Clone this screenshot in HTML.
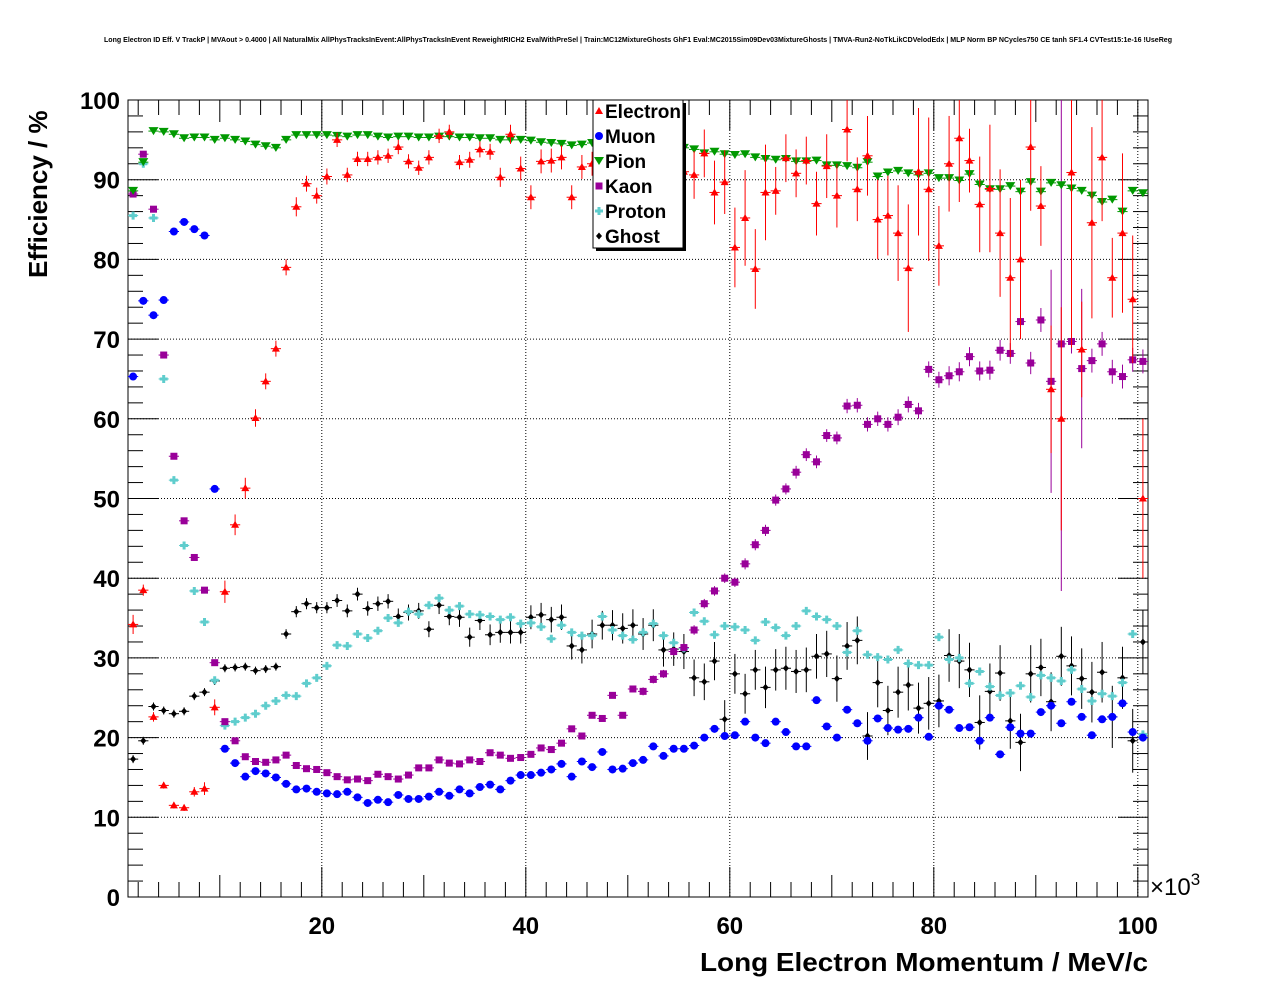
<!DOCTYPE html>
<html><head><meta charset="utf-8"><style>
html,body{margin:0;padding:0;background:#fff;}
svg{display:block;font-family:"Liberation Sans",Arial,sans-serif;}
</style></head><body>
<svg id="c" width="1276" height="996" xmlns="http://www.w3.org/2000/svg">
<rect x="0" y="0" width="1276" height="996" fill="#fff"/>
<text x="104" y="42" font-size="7" textLength="1068" lengthAdjust="spacingAndGlyphs" font-weight="bold">Long Electron ID Eff. V TrackP | MVAout &gt; 0.4000 | All NaturalMix AllPhysTracksInEvent:AllPhysTracksInEvent ReweightRICH2 EvalWithPreSel | Train:MC12MixtureGhosts GhF1 Eval:MC2015Sim09Dev03MixtureGhosts | TMVA-Run2-NoTkLikCDVelodEdx | MLP Norm BP NCycles750 CE tanh SF1.4 CVTest15:1e-16 !UseReg</text>
<g id="grid"></g>
<g id="axes"></g>
<g id="marks"></g>
<text x="700" y="971" font-size="26" font-weight="bold" textLength="448" lengthAdjust="spacingAndGlyphs">Long Electron Momentum / MeV/c</text>
<text transform="translate(47,278) rotate(-90)" font-size="26" font-weight="bold" text-anchor="start">Efficiency / %</text>
<text x="1150" y="895" font-size="24">×10<tspan dy="-10" font-size="17">3</tspan></text>
<g id="legend"></g>
</svg>
<script>
const xCenters0 = 1.5; // first bin center (x10^3)
const electron = [34.2,38.5,22.6,14,11.5,11.2,13.2,13.6,23.8,38.3,
46.7,51.3,60.1,64.7,68.8,79,86.6,89.5,88,90.4,
95,90.6,92.6,92.6,92.8,93,94.1,92.3,91.5,92.8,
95.5,96,92.2,92.5,93.8,93.5,90.3,95.7,91.4,87.8,
92.3,92.4,92.8,87.8,91.6,92,93,93,92,93,
92,92,91,90,91,90.6,93.3,88.4,89.7,81.5,
85.2,78.8,88.4,88.6,92.7,90.8,92.4,87,91.7,88,
96.3,88.8,93,85,85.5,83.3,78.9,91,88.8,81.7,
92,95.2,92.4,86.9,88.9,83.3,77.7,80,94.1,86.7,
63.7,60,90.9,68.7,84.6,92.8,77.7,83.3,75,50];
const errElectron = [1.2,0.7,0.6,0.4,0.4,0.4,0.6,0.8,1,1.4,
1.3,1.3,1.1,1,1,1,1.2,1,1,1,
0.9,0.9,0.9,0.9,0.9,0.9,0.9,0.9,0.9,0.9,
0.9,0.9,0.9,1,1,1,1.2,1.2,1.5,1.5,
1.5,1.5,1.5,1.5,1.5,1.5,2,2,2,2,
2,2,2,2,2,3,3,4,4,5,
6,5,6,3,3,3,3,4,4,4,
4,4,5,5,5,6,8,8,9,5,
6,8,4,6,8,8,10,10,8,5,
8,14,22,6,12,8,5,10,8,10];
const muon = [65.3,74.8,73,74.9,83.5,84.7,83.8,83,51.2,18.6,
16.8,15.1,15.8,15.5,15,14.2,13.5,13.6,13.2,13,
12.9,13.2,12.5,11.8,12.2,11.9,12.8,12.3,12.3,12.6,
13.2,12.7,13.5,13,13.8,14.1,13.5,14.6,15.3,15.3,
15.6,16,16.7,15.1,17,16.3,18.2,16,16.1,16.8,
17.2,18.9,17.7,18.6,18.6,19,20,21.1,20.2,20.3,
22,20,19.3,22,20.7,18.9,18.9,24.7,21.4,20,
23.5,21.8,19.6,22.4,21.2,21,21.1,22.5,20.1,24,
23.5,21.2,21.3,19.6,22.5,17.9,21.3,20.5,20.5,23.2,
24,21.8,24.5,22.6,20.3,22.3,22.6,24.3,20.7,20];
const pion = [88.6,92.2,96.1,96,95.7,95.2,95.3,95.3,95,95.2,
95,94.8,94.4,94.2,94,95,95.6,95.6,95.6,95.6,
95.5,95.4,95.6,95.6,95.4,95.3,95.4,95.4,95.3,95.3,
95.4,95.4,95.3,95.3,95.2,95.2,95,95,95,94.9,
94.7,94.6,94.5,94.3,94.4,94.6,94.7,94.6,94.5,94.2,
94.3,94.3,94.3,94,94,93.8,93.3,93.5,93.2,93.1,
93.2,92.8,92.6,92.5,92.6,92.3,92.3,92.4,91.8,91.8,
91.7,91.5,92.2,90.4,90.9,91.1,90.8,90.6,90.8,90.2,
90.2,89.9,90.7,89.4,88.8,88.8,89.2,88.5,89.7,88.5,
89.6,89.3,88.9,88.6,88,87.2,87.5,86,88.6,88.3];
const kaon = [88.2,93.2,86.3,68,55.3,47.2,42.6,38.5,29.4,22,
19.6,17.6,17,16.9,17.2,17.8,16.5,16.1,16,15.6,
15.1,14.7,14.8,14.6,15.4,15.1,14.8,15.3,16.2,16.2,
17.2,16.8,16.7,17.2,17,18.1,17.8,17.4,17.5,17.9,
18.7,18.5,19.3,21.1,20.2,22.8,22.4,25.3,22.8,26.1,
25.8,27.3,28,30.8,31.3,33.5,36.8,38.4,40,39.5,
41.8,44.2,46,49.8,51.2,53.3,55.5,54.6,57.9,57.6,
61.6,61.7,59.3,60,59.3,60.2,61.8,61,66.2,64.9,
65.4,65.9,67.8,66,66.1,68.6,68.2,72.2,67,72.4,
64.7,69.4,69.7,66.3,67.3,69.4,65.9,65.3,67.4,67.2];
const errKaon = [0.4,0.4,0.4,0.4,0.4,0.4,0.4,0.4,0.4,0.4,
0.3,0.3,0.3,0.3,0.3,0.3,0.3,0.3,0.3,0.3,
0.3,0.3,0.3,0.3,0.3,0.3,0.3,0.3,0.3,0.3,
0.3,0.3,0.3,0.3,0.3,0.3,0.3,0.3,0.3,0.3,
0.4,0.4,0.4,0.4,0.4,0.4,0.4,0.4,0.4,0.4,
0.5,0.5,0.5,0.5,0.5,0.6,0.6,0.6,0.6,0.6,
0.7,0.7,0.7,0.7,0.7,0.8,0.8,0.8,0.8,0.8,
0.9,0.9,0.9,0.9,0.9,1,1,1,1,1,
1.2,1.2,1.2,1.2,1.2,1.3,1.3,1.4,1.4,1.5,
14,31,1.5,10,1.5,1.5,1.5,1.5,1.5,1.5];
const proton = [85.5,92,85.2,65,52.3,44.1,38.4,34.5,27.2,21.5,
22,22.5,23,24,24.6,25.3,25.2,26.8,27.5,29,
31.6,31.5,33,32.5,33.4,35,34.4,35.8,35.5,36.6,
37.5,36,36.5,35.5,35.4,35.2,34.8,35.1,34.3,34.4,
33.9,32.4,34.1,33.2,32.8,32.8,35.2,33.5,32.8,32.3,
33.2,34.3,32.8,31.9,31.2,35.7,34.6,32.9,34,33.9,
33.5,32.2,34.5,33.8,32.8,34,35.9,35.2,34.8,34,
30.7,33.4,30.4,30.1,29.8,31,29.3,29.1,29.1,32.6,
29.8,30,26.8,28.3,26.4,25.3,25.6,26.5,25.1,27.8,
27.5,27.1,28.5,26.1,24.6,25.5,25.2,26.9,33,20.4];
const ghost = [17.3,19.6,23.9,23.4,23,23.3,25.2,25.7,27.1,28.7,
28.8,28.9,28.4,28.6,28.9,33,35.8,36.8,36.3,36.3,
37.2,35.9,38,36.2,36.8,37.1,35.2,35.7,35.9,33.6,
36.6,35.2,35.1,32.6,34.7,32.9,33.2,33.2,33.2,35.1,
35.4,34.8,35.1,31.5,31,33,34.1,34.1,33.7,34.1,
33,34.1,31,31.1,30.8,27.5,27,29.6,22.3,28,
25.5,28.5,26.3,28.5,28.7,28.3,28.5,30.2,30.5,27.4,
31.5,32.2,20.2,26.9,23.4,25.7,26.6,23.7,24.3,24.6,
30.3,29.6,28.5,21.9,25.8,28.1,22.1,19.4,28,28.8,
24.5,30.2,29,27.4,25.7,28.2,22.6,27.5,19.6,32];
const errGhost = [0.5,0.5,0.5,0.5,0.5,0.5,0.5,0.5,0.5,0.5,
0.5,0.5,0.5,0.5,0.5,0.6,0.7,0.7,0.7,0.7,
0.8,0.8,0.8,0.9,0.9,0.9,1,1,1,1,
1.1,1.1,1.2,1.2,1.2,1.3,1.3,1.4,1.4,1.5,
1.5,1.6,1.6,1.7,1.7,1.8,1.8,1.9,1.9,2,
2,2,2.1,2.1,2.2,2.3,2.3,2.4,2.4,2.5,
2.5,2.5,2.6,2.6,2.7,2.7,2.8,2.8,2.9,2.9,
3,3,3,3.1,3.1,3.2,3.2,3.2,3.3,3.3,
3.3,3.4,3.4,3.4,3.5,3.5,3.5,3.6,3.6,3.6,
3.7,3.7,3.7,3.8,3.8,3.8,3.9,3.9,4,4];
const xTicks = [20,40,60,80,100];
const yTicks = [0,10,20,30,40,50,60,70,80,90,100];

const NS='http://www.w3.org/2000/svg';
const L=128,R=1148,T=100,B=897;
const X0=1,X1=101;
function sx(v){return L+(v-X0)/(X1-X0)*(R-L);}
function sy(v){return B-v/100*(B-T);}
function mk(tag,attrs,parent){const e=document.createElementNS(NS,tag);for(const k in attrs)e.setAttribute(k,attrs[k]);parent.appendChild(e);return e;}
const grid=document.getElementById('grid'),axes=document.getElementById('axes'),marks=document.getElementById('marks'),leg=document.getElementById('legend');

xTicks.forEach(t=>{if(t<X1){const g=mk('line',{x1:sx(t),x2:sx(t),y1:T,y2:B,stroke:'#000','stroke-width':1,'stroke-dasharray':'1,2'},grid);

}});
yTicks.forEach(t=>{if(t>0&&t<100){const g=mk('line',{x1:L,x2:R,y1:sy(t),y2:sy(t),stroke:'#000','stroke-width':1,'stroke-dasharray':'1,2'},grid);

}});
const fr=mk('rect',{x:L,y:T,width:R-L,height:B-T,fill:'none',stroke:'#000','stroke-width':1},axes);


for(let v=2;v<=100;v+=1){
  if(v<X0||v>X1)continue;
  const major=v%20===0, mid=v%10===0;
  const len=major?30:(mid?22:(v%2===0?15:0));
  if(!len)continue;
  const x=sx(v);
  const t1=mk('line',{x1:x,x2:x,y1:B,y2:B-len,stroke:'#000'},axes);
  
  
  const t2=mk('line',{x1:x,x2:x,y1:T,y2:T+len,stroke:'#000'},axes);
  
  
}
xTicks.forEach(t=>{const tx=mk('text',{x:sx(t),y:934,'font-size':24,'font-weight':'bold','text-anchor':'middle'},axes);tx.textContent=t;

});
for(let v=0;v<=100;v+=2){
  const major=v%10===0;const len=major?30:15;const y=sy(v);
  const t1=mk('line',{x1:L,x2:L+len,y1:y,y2:y,stroke:'#000'},axes);
  
  
  const t2=mk('line',{x1:R,x2:R-len,y1:y,y2:y,stroke:'#000'},axes);
  
  
}
yTicks.forEach(t=>{const tx=mk('text',{x:120,y:sy(t)+9,'font-size':24,'font-weight':'bold','text-anchor':'end'},axes);tx.textContent=t;

});

const zeros=new Array(100).fill(0.4);
function marker(shape,cx,cy,col,g){
  let e;
  if(shape==='tri') e=mk('polygon',{points:`${cx},${cy-4} ${cx-4},${cy+3} ${cx+4},${cy+3}`,fill:col},g);
  else if(shape==='tridown') e=mk('polygon',{points:`${cx-5},${cy-4} ${cx+5},${cy-4} ${cx},${cy+4}`,fill:col},g);
  else if(shape==='circ') e=mk('circle',{cx:cx,cy:cy,r:4,fill:col},g);
  else if(shape==='sq') e=mk('rect',{x:cx-3.5,y:cy-3.5,width:7,height:7,fill:col},g);
  else if(shape==='cross') e=mk('polygon',{points:`${cx-1.5},${cy-4} ${cx+1.5},${cy-4} ${cx+1.5},${cy-1.5} ${cx+4},${cy-1.5} ${cx+4},${cy+1.5} ${cx+1.5},${cy+1.5} ${cx+1.5},${cy+4} ${cx-1.5},${cy+4} ${cx-1.5},${cy+1.5} ${cx-4},${cy+1.5} ${cx-4},${cy-1.5} ${cx-1.5},${cy-1.5}`,fill:col},g);
  else e=mk('polygon',{points:`${cx},${cy-3.5} ${cx+3},${cy} ${cx},${cy+3.5} ${cx-3},${cy}`,fill:col},g);
  return e;
}
function drawSeries(name,vals,errs,col,shape){
  const g=mk('g',{},marks);
  
  
  vals.forEach((v,i)=>{
    const xc=xCenters0+i;const cx=sx(xc),cy=sy(v);
    const h=mk('line',{x1:sx(xc-0.5),x2:sx(xc+0.5),y1:cy,y2:cy,stroke:col,'stroke-width':1},g);
    
    
    const e=errs[i];
    const vt=mk('line',{x1:cx,x2:cx,y1:sy(Math.min(100,v+e)),y2:sy(Math.max(0,v-e)),stroke:col,'stroke-width':1},g);
    
    
    const m=marker(shape,cx,cy,col,g);
    
    
  });
}
drawSeries('ghost',ghost,errGhost,'#000','diamond');
drawSeries('proton',proton,zeros,'#5fcdcd','cross');
drawSeries('kaon',kaon,errKaon,'#990099','sq');
drawSeries('pion',pion,zeros,'#009900','tridown');
drawSeries('muon',muon,zeros,'#0000ff','circ');
drawSeries('electron',electron,errElectron,'#ff0000','tri');

const lx=593,ly=100,lw=90,lh=148;
const sh=mk('rect',{x:lx+3,y:ly+3,width:lw,height:lh,fill:'#000'},leg);


const bx=mk('rect',{x:lx,y:ly,width:lw,height:lh,fill:'#fff',stroke:'#000'},leg);


const entries=[['Electron','#ff0000','tri'],['Muon','#0000ff','circ'],['Pion','#009900','tridown'],['Kaon','#990099','sq'],['Proton','#5fcdcd','cross'],['Ghost','#000','diamond']];
entries.forEach((en,i)=>{
  const y=ly+11+i*25;
  const g=mk('g',{},leg);
  
  
  marker(en[2],lx+6,y,en[1],g);
  const t=mk('text',{x:lx+12,y:y+7,'font-size':19,'font-weight':'bold'},g);t.textContent=en[0];
});
</script>
</body></html>
